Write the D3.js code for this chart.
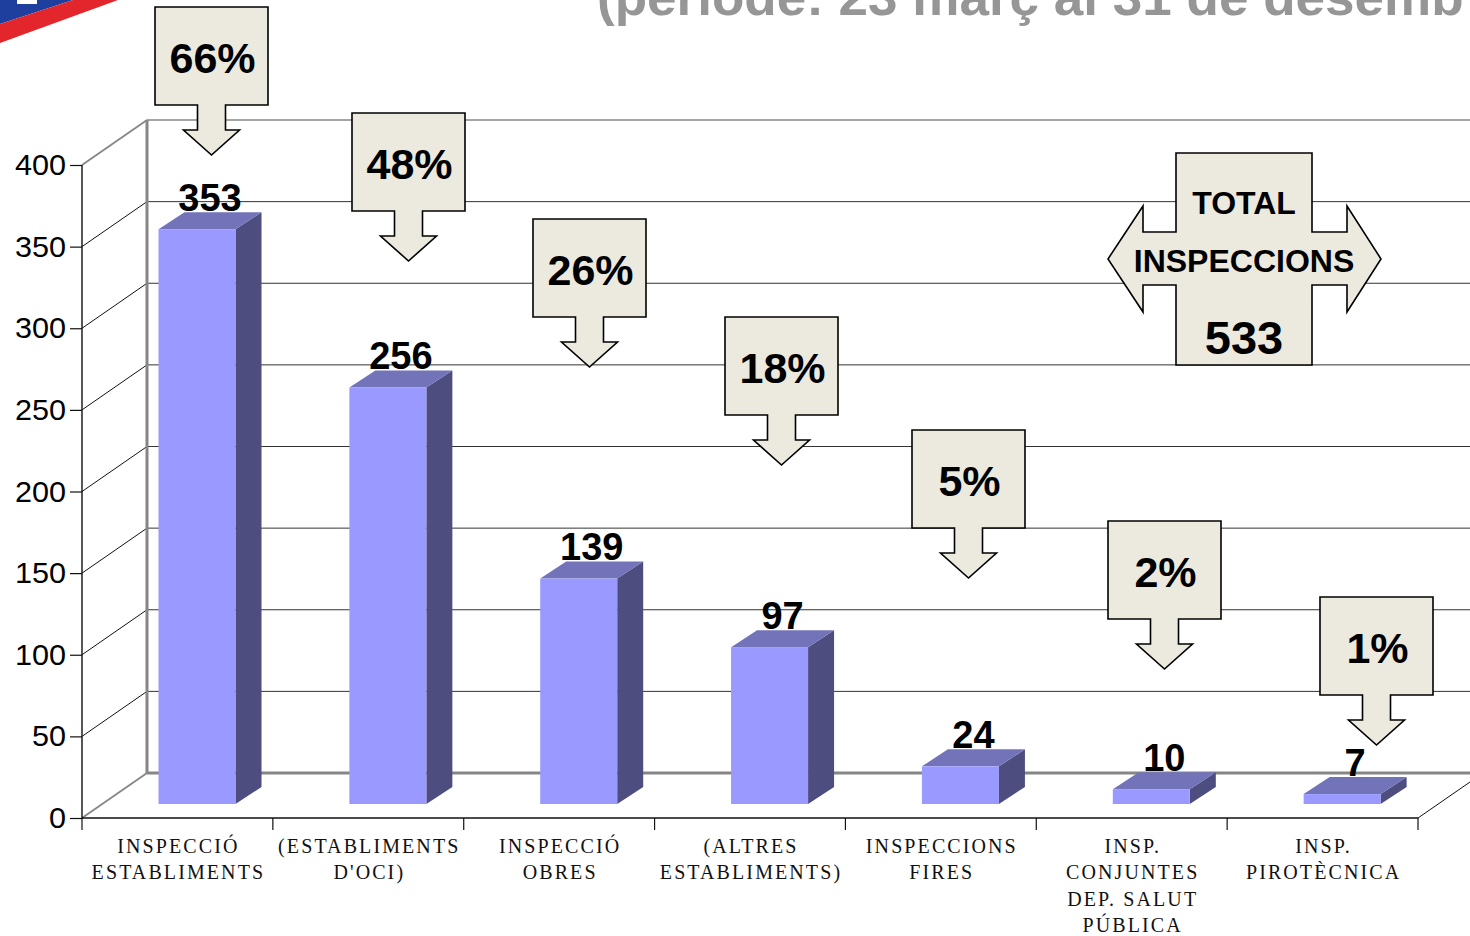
<!DOCTYPE html>
<html><head><meta charset="utf-8">
<script src="https://cdnjs.cloudflare.com/ajax/libs/d3/7.8.5/d3.min.js"></script>
<style>html,body{margin:0;padding:0;background:#fff;overflow:hidden}svg{display:block}
text{font-family:"Liberation Sans",Arial,sans-serif}</style></head>
<body><svg id="c" width="1470" height="936"></svg>
<script>
const categories = ["INSPECCIÓ ESTABLIMENTS","(ESTABLIMENTS D'OCI)","INSPECCIÓ OBRES","(ALTRES ESTABLIMENTS)","INSPECCIONS FIRES","INSP. CONJUNTES DEP. SALUT PÚBLICA","INSP. PIROTÈCNICA"];
const categoryLines = [["INSPECCIÓ","ESTABLIMENTS"],["(ESTABLIMENTS","D'OCI)"],["INSPECCIÓ","OBRES"],["(ALTRES","ESTABLIMENTS)"],["INSPECCIONS","FIRES"],["INSP.","CONJUNTES","DEP. SALUT","PÚBLICA"],["INSP.","PIROTÈCNICA"]];
const values = [353,256,139,97,24,10,7];
const percents = ["66%","48%","26%","18%","5%","2%","1%"];
const yTicks = [0,50,100,150,200,250,300,350,400];
const titleText = "(període: 23 març al 31 de desemb";
const totalLines = ["TOTAL","INSPECCIONS","533"];
// layout of annotation callouts (left, top of box)
const calloutPos = [[155,7],[352,113],[533,219],[725,317],[912,430],[1108,521],[1320,597]];

const svg = d3.select("#c");
const x = d3.scaleBand().domain(categories).range([82,1418]);
const y = d3.scaleLinear().domain([0,400]).range([818,165]);
const wall = {dx:65, dy:45}, barZ = {dy:12.5}, depth = {dx:26, dy:17}, barW = 77, barInset = 76.5;
const GREY = "#868686";

// flag corner
svg.append("path").attr("d","M0,0H73L0,24Z").attr("fill","#1f3f9e");
svg.append("path").attr("d","M17,0H37V4H17Z").attr("fill","#fff");
svg.append("path").attr("d","M0,24L73,0H118L0,43Z").attr("fill","#e2262b");

// title
svg.append("text").attr("transform","translate(597,15) scale(1.02,1)").attr("font-size",52).attr("font-weight",700).attr("fill","#969696").text(titleText);

// walls
const backX0 = 82+wall.dx;
svg.selectAll(".grid").data(yTicks).join("line")
  .attr("x1",backX0).attr("x2",1470).attr("y1",d=>y(d)-wall.dy).attr("y2",d=>y(d)-wall.dy)
  .attr("stroke",d=>d===0?GREY:(d===400?GREY:"#333")).attr("stroke-width",d=>d===0?3:(d===400?1.6:1));
svg.selectAll(".side").data(yTicks).join("line")
  .attr("x1",82).attr("x2",backX0).attr("y1",d=>y(d)).attr("y2",d=>y(d)-wall.dy)
  .attr("stroke",d=>(d===0||d===400)?GREY:"#111").attr("stroke-width",d=>(d===0||d===400)?1.8:1);
svg.append("line").attr("x1",backX0).attr("x2",backX0).attr("y1",y(400)-wall.dy).attr("y2",y(0)-wall.dy).attr("stroke",GREY).attr("stroke-width",3);
svg.append("line").attr("x1",1418).attr("x2",1470).attr("y1",y(0)).attr("y2",y(0)-36).attr("stroke","#111").attr("stroke-width",1);

// axes
const yAxis = svg.append("g").attr("transform","translate(82,0)").call(d3.axisLeft(y).tickValues(yTicks).tickSize(12).tickFormat(d3.format("d")));
yAxis.select(".domain").attr("d",`M0,${y(400)}V${y(0)}`).attr("stroke","#111").attr("stroke-width",1.4);
yAxis.selectAll(".tick line").attr("stroke","#111").attr("stroke-width",1.2);
yAxis.selectAll(".tick text").attr("x",null).attr("dy",null).attr("transform","translate(-16,9.5) scale(1.02,1)")
  .attr("font-size",30).attr("fill","#000").attr("text-anchor","end").style("font-family",'"Liberation Sans"');

svg.append("line").attr("x1",82).attr("x2",1418).attr("y1",y(0)).attr("y2",y(0)).attr("stroke","#111").attr("stroke-width",1.4);
svg.selectAll(".xt").data([...categories.map(c=>x(c)),1418]).join("line")
  .attr("x1",d=>d).attr("x2",d=>d).attr("y1",y(0)).attr("y2",y(0)+12).attr("stroke","#111").attr("stroke-width",1.2);

const lbl = svg.append("g");
categories.forEach((c,i)=>{
  lbl.selectAll(null).data(categoryLines[i]).join("text")
    .attr("x",x(c)+x.bandwidth()/2+1).attr("y",(d,j)=>853+j*26.3).attr("text-anchor","middle")
    .style("font-family",'"Liberation Serif",serif').attr("font-size",20).attr("letter-spacing",2.1).attr("fill","#111").text(d=>d);
});

// bars
const bx = d=>x(categories[values.indexOf(d)])+barInset;
const base = 804, barTop = v=>y(v)-barZ.dy;
const bars = svg.selectAll(".bar").data(values).join("g");
bars.append("path").attr("fill","#4d4d80").attr("d",d=>`M${bx(d)+barW},${barTop(d)}l${depth.dx},${-depth.dy}V${base-depth.dy}l${-depth.dx},${depth.dy}Z`);
bars.append("path").attr("fill","#7373ba").attr("d",d=>`M${bx(d)},${barTop(d)}l${depth.dx},${-depth.dy}h${barW}l${-depth.dx},${depth.dy}Z`);
bars.append("rect").attr("fill","#9999ff").attr("x",bx).attr("y",barTop).attr("width",barW).attr("height",d=>base-barTop(d));

// value labels
svg.selectAll(".val").data(values).join("text")
  .attr("transform",d=>`translate(${bx(d)+barW/2+13},${barTop(d)-depth.dy-1.5})`)
  .attr("text-anchor","middle").attr("font-size",38).attr("font-weight",700).attr("fill","#000").text(d=>d);

// callouts
const BW=113,BH=98,SH=25,SW=14,HW=28,HH=25;
const co = svg.selectAll(".co").data(percents).join("g").attr("transform",(d,i)=>`translate(${calloutPos[i]})`);
co.append("path").attr("fill","#ece9df").attr("stroke","#000").attr("stroke-width",1.6).attr("stroke-linejoin","miter")
  .attr("d",`M0,0H${BW}V${BH}H${BW/2+SW}V${BH+SH}H${BW/2+HW}L${BW/2},${BH+SH+HH}L${BW/2-HW},${BH+SH}H${BW/2-SW}V${BH}H0Z`);
co.append("text").attr("transform",`translate(${BW/2+1},66)`).attr("text-anchor","middle").attr("font-size",43).attr("font-weight",700).attr("fill","#000").text(d=>d);

// total cross
svg.append("path").attr("fill","#ece9df").attr("stroke","#000").attr("stroke-width",1.6)
  .attr("d","M1176,153H1312V232H1347V206L1381,259L1347,312V285H1312V365H1176V285H1143V312L1108,259L1143,206V232H1176Z");
const tf=[[214,32],[272,32],[354,47]];
svg.selectAll(".tot").data(totalLines).join("text")
  .attr("transform",(d,i)=>`translate(1244,${tf[i][0]})`).attr("text-anchor","middle")
  .attr("font-size",(d,i)=>tf[i][1]).attr("font-weight",700).attr("fill","#000").text(d=>d);
</script></body></html>
